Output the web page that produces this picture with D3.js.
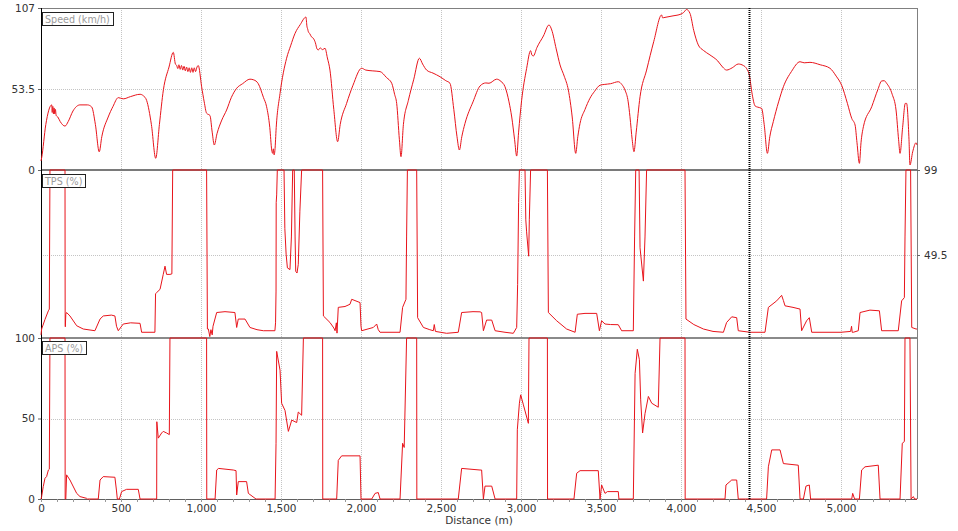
<!DOCTYPE html>
<html><head><meta charset="utf-8">
<script src="https://cdn.jsdelivr.net/npm/d3@7"></script>
<style>html,body{margin:0;padding:0;background:#fff;}svg{display:block;font-family:"DejaVu Sans",Verdana,sans-serif;}</style>
</head><body><svg id="c" width="958" height="531"></svg>
<script>
// distance (m), speed (km/h)
const speed = [[0,6],[4,8],[30,30],[67,43],[70,38],[74,42],[78,37],[82,41],[86,37],[90,40],[95,36],[105,35],[120,32],[150,29],[170,32],[200,39],[244,43],[290,43],[317,41.6],[340,30],[364,12],[380,22],[420,35],[450,42],[483,47.8],[514,47],[560,48.5],[619,50],[640,49],[660,46],[690,30],[717,7.7],[740,30],[765,53],[800,68],[827,77.7],[840,70],[848,69],[855,67],[862,69.5],[870,66.5],[878,69],[886,66],[894,68.5],[902,65.5],[910,68],[918,65],[926,67.5],[934,64.5],[942,67.5],[950,64.5],[958,67.5],[966,65],[975,68],[983,69],[1004,55],[1020,45],[1035,37.5],[1056,36],[1070,25],[1083,16.5],[1100,24],[1130,33],[1160,39.6],[1190,48],[1223,54],[1260,57],[1306,60],[1330,59.5],[1358,57],[1390,48],[1410,41.8],[1430,28],[1442,13.2],[1448,11],[1452,14],[1457,10],[1462,13],[1470,28],[1494,50.6],[1535,73.8],[1560,82],[1588,90.3],[1620,96],[1656,101],[1662,95],[1667,93],[1671,91.3],[1680,90],[1690,88],[1702,87],[1715,84],[1725,80],[1733,79.3],[1745,80.6],[1760,79.5],[1775,80.4],[1790,74],[1806,66],[1830,40],[1854,18.7],[1870,30],[1910,44],[1950,56],[2004,67.2],[2030,66],[2070,65.5],[2119,65],[2160,61],[2192,57.3],[2210,50],[2223,44],[2240,20],[2250,8.8],[2265,30],[2296,46],[2330,60],[2365,73.8],[2385,70],[2410,66],[2450,64],[2494,61.6],[2530,59],[2556,57.3],[2580,40],[2600,22],[2615,13.2],[2630,22],[2650,30.8],[2700,45],[2744,55.5],[2780,57.5],[2800,57.3],[2848,60],[2875,58.5],[2900,55],[2925,45],[2942,35],[2960,20],[2973,9.2],[2985,25],[3004,46],[3035,67],[3060,78.8],[3068,76],[3077,75.3],[3100,81],[3140,88.5],[3175,95.8],[3192,92.5],[3220,80],[3244,69.4],[3270,62],[3296,52.8],[3320,35],[3342,11],[3355,22],[3369,30.8],[3400,40],[3431,47.4],[3460,52],[3494,56],[3520,56.5],[3560,57],[3608,58.3],[3630,56.5],[3650,52.8],[3670,45],[3681,35.2],[3695,20],[3706,12.1],[3720,25],[3744,48.4],[3785,66],[3830,85],[3879,102.4],[3885,100.5],[3900,100.8],[3950,101.8],[4000,103],[4015,103.9],[4035,106],[4056,103.5],[4080,92],[4108,82.6],[4140,79],[4181,76],[4230,72],[4260,68],[4285,66],[4320,67.5],[4358,70],[4390,69],[4410,67],[4427,62.7],[4445,50],[4463,42.3],[4480,41.5],[4504,40.7],[4520,30],[4540,11],[4555,22],[4577,32],[4610,45],[4640,55],[4690,65],[4744,71.5],[4770,70.8],[4806,71.1],[4870,69.5],[4931,67.2],[4970,62],[5004,56],[5040,44],[5067,34.1],[5088,29.7],[5100,18],[5115,4.4],[5125,18],[5140,28.6],[5192,41.8],[5230,53],[5254,58.8],[5270,59],[5285,57.3],[5320,50],[5344,39.6],[5360,20],[5369,11],[5385,28],[5402,44],[5410,44],[5425,20],[5431,3.3],[5448,12],[5469,18],[5475,16.5]];

// distance (m), throttle position TPS (%)
const tps = [[0,3],[4,6.4],[25,12],[46,17],[52,18],[56,99],[150,99],[151,10],[152,7.7],[155,15],[160,16],[181,14],[223,8.3],[264,6.4],[337,5.4],[369,12.2],[389,14],[440,14.5],[462,14],[472,8],[483,5.4],[514,9.3],[560,10],[619,9.7],[629,4.5],[712,4.5],[716,27],[723,27.6],[744,29.5],[764,38.2],[775,43],[785,38.2],[806,38.2],[818,38.5],[823,99],[1035,99],[1040,6.4],[1046,6.4],[1055,2],[1062,6],[1070,3],[1075,8],[1098,16],[1150,16.5],[1212,16],[1223,7.3],[1233,12.2],[1275,12.2],[1306,7.3],[1350,6],[1390,5.4],[1462,5.4],[1466,10],[1469,28.5],[1470,80],[1473,84.5],[1477,99],[1519,99],[1524,65],[1532,50],[1540,42],[1556,41],[1565,60],[1573,99],[1583,99],[1588,60],[1592,40],[1600,39],[1608,44],[1618,75],[1629,99],[1760,99],[1765,14],[1806,10.2],[1830,7],[1838,5.4],[1846,10],[1850,4],[1858,19],[1900,19.5],[1931,20.8],[1942,23.7],[1994,21.8],[2000,8],[2004,5.4],[2077,7.3],[2098,9.3],[2108,6],[2119,4.5],[2244,4.5],[2260,19],[2281,23.7],[2285,60],[2290,99],[2348,99],[2354,13],[2390,7.3],[2430,6],[2452,5.4],[2458,9],[2465,5],[2535,3.9],[2608,4.5],[2629,16],[2700,16.5],[2744,16.4],[2754,16],[2765,5.4],[2785,11.6],[2817,11.6],[2838,5.4],[2900,4.5],[2952,3.9],[2973,7.3],[2979,32.4],[2985,80],[2990,99],[3025,99],[3030,70],[3035,63],[3048,48.8],[3052,70],[3060,99],[3165,99],[3171,16],[3223,11.2],[3285,6.4],[3338,4.5],[3352,15],[3400,15.5],[3473,15.5],[3490,5.4],[3504,11.2],[3525,9.3],[3560,9],[3608,8.9],[3629,5.4],[3702,5.4],[3710,60],[3717,99],[3738,99],[3744,53.7],[3765,34.3],[3775,60],[3785,99],[4025,99],[4031,12.2],[4080,9],[4140,6.4],[4200,5],[4265,4.5],[4285,10.2],[4317,13.5],[4348,13],[4358,5.4],[4431,4.5],[4525,4.5],[4546,19],[4598,22.8],[4629,26],[4640,23],[4650,19.9],[4700,19],[4744,18],[4754,5.4],[4785,11.2],[4802,13],[4817,4.5],[4900,4.5],[5000,4.5],[5060,5],[5066,8],[5070,4.5],[5077,4.5],[5108,5.4],[5119,16],[5181,17.4],[5240,17],[5254,5.4],[5358,5.4],[5379,22.8],[5396,24.7],[5400,60],[5406,99],[5435,99],[5442,7.3],[5469,6.4],[5475,6.4]];

// distance (m), accelerator pedal APS (%)
const aps = [[0,0],[4,1.5],[14,7.7],[25,12.9],[35,13.9],[46,18],[52,18.5],[56,100],[150,100],[151,0],[155,0],[160,15],[181,11.8],[223,3.5],[244,1.5],[285,0.4],[290,0],[358,0],[369,11.8],[389,13.9],[462,13.5],[472,5],[477,0],[490,0],[504,4.6],[535,6],[608,6],[619,0],[723,0],[724,48],[733,37.8],[754,41],[764,42],[785,41],[802,40],[806,100],[1035,100],[1036,0],[1088,0],[1098,18],[1110,19],[1202,18],[1219,17.6],[1223,2.5],[1233,10.8],[1285,10.8],[1296,3.5],[1338,0.4],[1345,0],[1463,0],[1469,34.6],[1473,91.7],[1494,80],[1504,59.5],[1525,55],[1546,42],[1567,49],[1598,47.5],[1608,54],[1629,52],[1640,100],[1760,100],[1761,0],[1848,0],[1858,24],[1879,26.8],[1994,26.8],[2000,0],[2067,0],[2088,3.5],[2108,4],[2119,0],[2244,0],[2260,34.6],[2270,32],[2285,100],[2348,100],[2349,0],[2608,0],[2629,19],[2744,18],[2754,18],[2765,0],[2775,8],[2817,8],[2838,0],[2973,0],[2977,43],[2990,59.5],[2998,64.7],[3015,58.5],[3046,47],[3050,100],[3165,100],[3166,0],[3331,0],[3348,16],[3369,17.6],[3483,17.6],[3494,0],[3504,8.7],[3525,3.5],[3540,4.6],[3608,4.6],[3612,0],[3702,0],[3713,78],[3727,93],[3740,86.5],[3748,61.6],[3760,41],[3775,53],[3796,63.7],[3817,59.5],[3858,57],[3869,100],[4025,100],[4026,0],[4275,0],[4281,8.7],[4317,11.8],[4348,11.8],[4358,0],[4535,0],[4546,20],[4567,30.5],[4619,30.5],[4640,22],[4733,21],[4744,0],[4765,0],[4781,8],[4802,8.7],[4810,0],[5067,0],[5073,3.5],[5085,0],[5115,0],[5129,18],[5150,20],[5233,21],[5244,0],[5369,0],[5383,34.6],[5396,35.7],[5400,100],[5431,100],[5438,0],[5452,1.5],[5460,0],[5475,0]];

const distTicks = [0,500,1000,1500,2000,2500,3000,3500,4000,4500,5000];
const speedTicks = [0,53.5,107];
const tpsTicks = [49.5,99];
const apsTicks = [0,50,100];
const cursorDist = 4425;
const panelTitles = ["Speed (km/h)","TPS (%)","APS (%)"];

const svg = d3.select("#c");
const L = 41, R = 917;
const x = d3.scaleLinear().domain([0,5475]).range([L,R]);
const ySpeed = d3.scaleLinear().domain([0,107]).range([170,8]);
const yTps = d3.scaleLinear().domain([0,99]).range([340,170]);
const yAps = d3.scaleLinear().domain([0,100]).range([499,338]);

const grid = svg.append("g");
grid.selectAll("line.v").data(distTicks.filter(d=>d>0)).join("line")
  .attr("x1",d=>Math.round(x(d))+0.5).attr("x2",d=>Math.round(x(d))+0.5).attr("y1",8).attr("y2",499)
  .attr("stroke","#c4c4c4").attr("stroke-dasharray","1,1");
[[ySpeed,53.5],[yTps,49.5],[yAps,50]].forEach(([s,v])=>{
  grid.append("line").attr("x1",L).attr("x2",R).attr("y1",Math.round(s(v))+0.5).attr("y2",Math.round(s(v))+0.5)
    .attr("stroke","#c4c4c4").attr("stroke-dasharray","1,1");
});

const fr = svg.append("g").attr("shape-rendering","crispEdges");
fr.append("line").attr("x1",L).attr("x2",R).attr("y1",8.5).attr("y2",8.5).attr("stroke","#808080");
fr.append("line").attr("x1",R+0.5).attr("x2",R+0.5).attr("y1",8).attr("y2",499).attr("stroke","#808080");
fr.append("rect").attr("x",L).attr("y",169).attr("width",R-L).attr("height",2).attr("fill","#7a7a7a");
fr.append("rect").attr("x",L).attr("y",337).attr("width",R-L).attr("height",2).attr("fill","#8a8a8a");
fr.append("line").attr("x1",L).attr("x2",R).attr("y1",499.5).attr("y2",499.5).attr("stroke","#606060");
fr.append("line").attr("x1",L+0.5).attr("x2",L+0.5).attr("y1",8).attr("y2",499).attr("stroke","#000");

const axFont = g => g.selectAll("text").attr("font-size","10.5px").attr("fill","#333").attr("font-family","DejaVu Sans, Verdana, sans-serif");
const axClean = g => { g.select(".domain").remove(); g.selectAll(".tick line").attr("stroke","#666"); };
svg.append("g").attr("transform",`translate(${L},0)`)
  .call(d3.axisLeft(ySpeed).tickValues(speedTicks).tickSize(3).tickPadding(3).tickFormat(d3.format("")))
  .call(axClean).call(axFont);
svg.append("g").attr("transform",`translate(${L},0)`)
  .call(d3.axisLeft(yAps).tickValues(apsTicks).tickSize(3).tickPadding(3).tickFormat(d3.format("")))
  .call(axClean).call(axFont);
svg.append("g").attr("transform",`translate(${R},0)`)
  .call(d3.axisRight(yTps).tickValues(tpsTicks).tickSize(3).tickPadding(4).tickFormat(d3.format("")))
  .call(axClean).call(axFont);
svg.append("g").attr("transform",`translate(0,499)`)
  .call(d3.axisBottom(x).tickValues(distTicks).tickSize(0).tickPadding(6).tickFormat(d3.format(",")))
  .call(axClean).call(axFont);
svg.append("g").selectAll("line").data(d3.range(0,5475,100)).join("line")
  .attr("x1",d=>Math.round(x(d))+0.5).attr("x2",d=>Math.round(x(d))+0.5).attr("y1",499).attr("y2",502)
  .attr("stroke","#999");
svg.append("text").attr("x",479).attr("y",524).attr("text-anchor","middle")
  .attr("font-size","10.5px").attr("fill","#333").text("Distance (m)");

// series
const mk = (ys, curve) => d3.line().x(d=>x(d[0])).y(d=>ys(d[1])).curve(curve);
[[speed,ySpeed,d3.curveMonotoneX],[tps,yTps,d3.curveLinear],[aps,yAps,d3.curveLinear]].forEach(([data,ys,cv])=>{
  svg.append("path").datum(data).attr("d",mk(ys,cv)).attr("fill","none")
    .attr("stroke","#e8141b").attr("stroke-width",1).attr("stroke-linejoin","round");
});

svg.append("line").attr("x1",Math.round(x(cursorDist))+0.5).attr("x2",Math.round(x(cursorDist))+0.5)
  .attr("y1",8).attr("y2",499).attr("stroke","#000").attr("stroke-width",2).attr("stroke-dasharray","1,1");

const titleY = [12, 174, 341];
panelTitles.forEach((t,i)=>{
  const g = svg.append("g").attr("transform",`translate(${L+1},${titleY[i]})`);
  const tx = g.append("text").attr("x",3).attr("y",10.5).attr("font-size","9.6px").attr("fill","#9a9a9a").text(t);
  const w = tx.node().getComputedTextLength();
  g.insert("rect","text").attr("x",0.5).attr("y",0.5).attr("width",Math.round(w)+6).attr("height",13)
    .attr("fill","#fff").attr("stroke","#222").attr("stroke-width",1);
});
</script></body></html>
